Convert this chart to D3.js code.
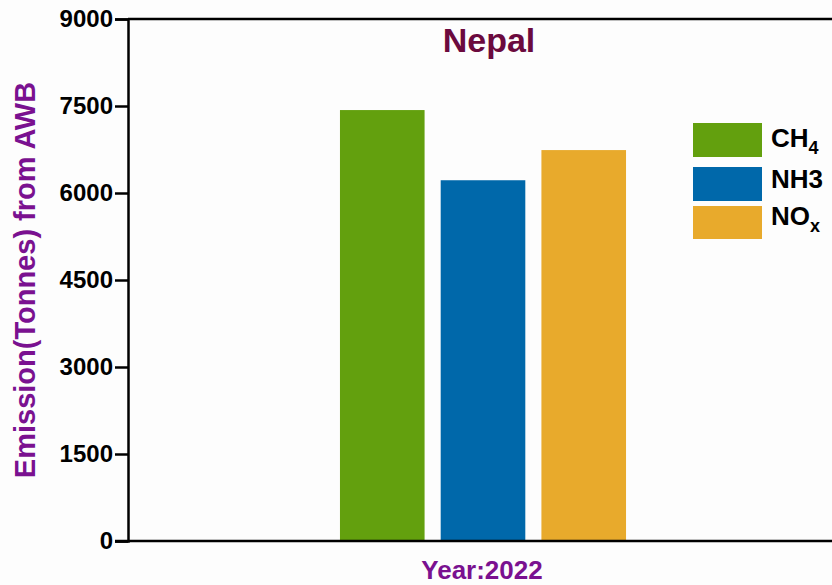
<!DOCTYPE html>
<html>
<head>
<meta charset="utf-8">
<script src="https://cdn.jsdelivr.net/npm/d3@7"></script>
<style>
  body { margin: 0; background: #fdfdfd; }
  svg { display: block; font-family: "Liberation Sans", Arial, sans-serif; font-weight: bold; }
</style>
</head>
<body>
<svg id="chart" width="832" height="585"></svg>
<script>
// data
const years = ['2022'];
const gases = ['CH4', 'NH3', 'NOx'];
const values = [7430, 6220, 6740];
const yTicks = [0, 1500, 3000, 4500, 6000, 7500, 9000];

const colors = { CH4: '#63a00e', NH3: '#0068aa', NOx: '#e8aa2c' };

const svg = d3.select('#chart');
const mLeft = 128, mTop = 19, mBottom = 541, mRight = 838;

const y = d3.scaleLinear().domain([0, 9000]).range([mBottom, mTop]);
const x0 = d3.scaleBand().domain(years).range([mLeft, mRight]).paddingInner(0).paddingOuter(0.741);
const x1 = d3.scaleBand().domain(gases).range([0, x0.bandwidth()]).paddingInner(0.16).paddingOuter(0);

// bars
const g = svg.append('g')
  .attr('transform', `translate(${x0(years[0])},0)`);

g.selectAll('rect')
  .data(gases.map((k, i) => ({ k, v: values[i] })))
  .enter()
  .append('rect')
  .attr('x', d => x1(d.k))
  .attr('y', d => y(d.v))
  .attr('width', x1.bandwidth())
  .attr('height', d => y(0) - y(d.v))
  .attr('fill', d => colors[d.k]);

// y axis
const yAxis = svg.append('g')
  .attr('transform', `translate(${mLeft},0)`)
  .call(d3.axisLeft(y).tickValues(yTicks).tickSize(13).tickPadding(2).tickFormat(d3.format('d')));

yAxis.select('.domain').attr('stroke', '#000').attr('stroke-width', 2.5);
yAxis.selectAll('.tick line').attr('stroke', '#000').attr('stroke-width', 2.5);
yAxis.selectAll('.tick text')
  .attr('fill', '#000')
  .style('font-size', '24px')
  .style('font-weight', 'bold')
  .style('font-family', '"Liberation Sans", Arial, sans-serif');

// frame lines (top and bottom)
svg.append('line')
  .attr('x1', mLeft).attr('x2', 832).attr('y1', y(9000)).attr('y2', y(9000))
  .attr('stroke', '#000').attr('stroke-width', 2.5);
svg.append('line')
  .attr('x1', mLeft - 13).attr('x2', 832).attr('y1', y(0)).attr('y2', y(0))
  .attr('stroke', '#000').attr('stroke-width', 2.5);

// title
svg.append('text')
  .attr('x', 489).attr('y', 52)
  .attr('text-anchor', 'middle')
  .attr('fill', '#6b0a3e')
  .style('font-size', '34px')
  .text('Nepal');

// axis titles
svg.append('text')
  .attr('transform', 'translate(35,280) rotate(-90)')
  .attr('text-anchor', 'middle')
  .attr('fill', '#7a1190')
  .style('font-size', '29px')
  .text('Emission(Tonnes) from AWB');

svg.append('text')
  .attr('x', 482).attr('y', 579)
  .attr('text-anchor', 'middle')
  .attr('fill', '#7a1190')
  .style('font-size', '26px')
  .text('Year:' + years[0]);

// legend
const legendRows = [
  { k: 'CH4', main: 'CH', sub: '4', y: 123, h: 34, base: 147 },
  { k: 'NH3', main: 'NH3', sub: '', y: 167, h: 34, base: 188 },
  { k: 'NOx', main: 'NO', sub: 'x', y: 206, h: 33, base: 225 },
];

const lg = svg.append('g');
legendRows.forEach(r => {
  lg.append('rect')
    .attr('x', 693).attr('y', r.y)
    .attr('width', 69).attr('height', r.h)
    .attr('fill', colors[r.k]);
  const t = lg.append('text')
    .attr('x', 771).attr('y', r.base)
    .attr('fill', '#000')
    .style('font-size', '26px');
  t.append('tspan').text(r.main);
  if (r.sub) {
    t.append('tspan').attr('dy', 7).style('font-size', '18px').text(r.sub);
  }
});
</script>
</body>
</html>
